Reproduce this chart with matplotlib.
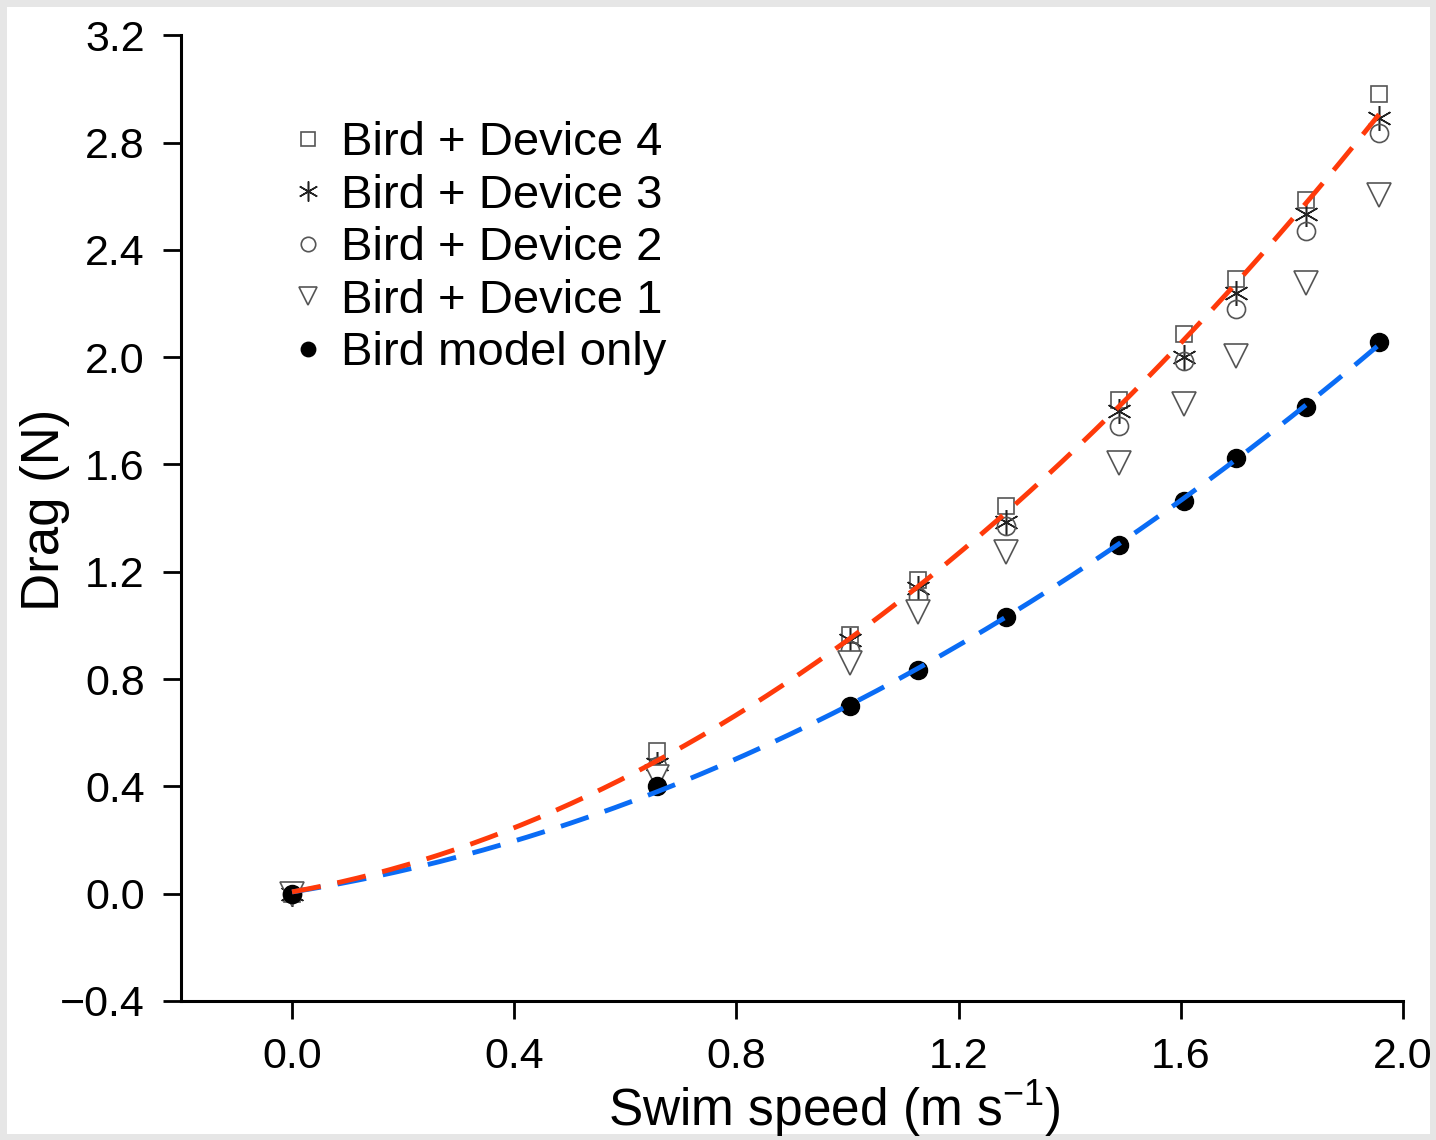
"""
Drag vs swim speed for bird model with and without devices.
"""

import numpy as np
import matplotlib
matplotlib.use('Agg')
import matplotlib.pyplot as plt
from matplotlib.ticker import FuncFormatter

plt.rcParams['font.family'] = ['Liberation Sans', 'DejaVu Sans']
plt.rcParams['mathtext.fontset'] = 'custom'
plt.rcParams['mathtext.rm'] = 'Liberation Sans'
plt.rcParams['mathtext.it'] = 'Liberation Sans'


### Data

# swim speed (m/s)
speed = np.array([0.0, 0.657, 1.005, 1.127, 1.285, 1.489, 1.605, 1.700, 1.825, 1.957])

# drag (N)
drag_dev4 = np.array([0.0, 0.53, 0.965, 1.17, 1.445, 1.84, 2.085, 2.29, 2.585, 2.98])
drag_dev3 = np.array([0.0, 0.485, 0.945, 1.14, 1.385, 1.80, 2.00, 2.24, 2.535, 2.89])
drag_dev2 = np.array([0.0, 0.475, 0.91, 1.107, 1.37, 1.745, 1.985, 2.18, 2.47, 2.835])
drag_dev1 = np.array([0.0, 0.435, 0.86, 1.05, 1.275, 1.605, 1.825, 2.005, 2.275, 2.605])
drag_bird = np.array([0.0, 0.40, 0.70, 0.835, 1.03, 1.30, 1.465, 1.625, 1.815, 2.057])

labels = ['Bird + Device 4', 'Bird + Device 3', 'Bird + Device 2',
          'Bird + Device 1', 'Bird model only']


### Quadratic fits (through the points)
v = np.linspace(0, speed.max(), 200)
p_bird = np.polyfit(speed, drag_bird, 2)
p_dev = np.polyfit(np.tile(speed, 2),
                   np.concatenate([drag_dev4, drag_dev3]), 2)


### Plot
fig = plt.figure(figsize=(14.36, 11.4), dpi=100)
ax = fig.add_axes([0.126, 0.122, 0.851, 0.847])

grey = '#555555'
ax.plot(speed, drag_dev4, ls='none', marker='s', ms=12, mfc='white',
        mec=grey, mew=1.2, label=labels[0])
ax.plot(speed, drag_dev3, ls='none', marker=(6, 2, 0), ms=18,
        mec='#222222', mew=1.1, label=labels[1])
ax.plot(speed, drag_dev2, ls='none', marker='o', ms=13, mfc='none',
        mec=grey, mew=1.2, label=labels[2])
ax.plot(speed, drag_dev1, ls='none', marker='v', ms=17, mfc='white',
        mec=grey, mew=1.2, label=labels[3])
ax.plot(speed, drag_bird, ls='none', marker='o', ms=13, mfc='black',
        mec='black', label=labels[4])

ax.plot(v, np.polyval(p_bird, v), c='#0a6cf5', ls=(0, (6, 3.5)), lw=3.5)
ax.plot(v, np.polyval(p_dev, v), c='#ff3a0a', ls=(0, (6, 3.5)), lw=3.5)

ax.set_xlim(-0.2, 2.0)
ax.set_ylim(-0.4, 3.2)
ax.set_xticks(np.arange(0, 2.01, 0.4))
ax.set_yticks(np.arange(-0.4, 3.21, 0.4))
fmt = FuncFormatter(lambda x, pos: ('%.1f' % x).replace('-', '\u2212'))
ax.xaxis.set_major_formatter(fmt)
ax.yaxis.set_major_formatter(fmt)

ax.spines['top'].set_visible(False)
ax.spines['right'].set_visible(False)
ax.spines['left'].set_linewidth(2.2)
ax.spines['bottom'].set_linewidth(2.2)
ax.tick_params(direction='out', length=13, width=2, labelsize=31, pad=13)

ax.set_xlabel('Swim speed (m s$^{-1}$)', fontsize=37)
ax.xaxis.set_label_coords(0.535, -0.08)
ax.set_ylabel('Drag (N)', fontsize=38)
ax.yaxis.set_label_coords(-0.091, 0.509)

ax.legend(loc='upper left', bbox_to_anchor=(0.05, 0.955), frameon=False,
          fontsize=34, handletextpad=0.2, labelspacing=0.18,
          handlelength=1.0, markerscale=0.8)

fig.patch.set_edgecolor('#e6e6e6')
fig.patch.set_linewidth(8)

fig.savefig('out.png', dpi=100, edgecolor=fig.get_edgecolor())
